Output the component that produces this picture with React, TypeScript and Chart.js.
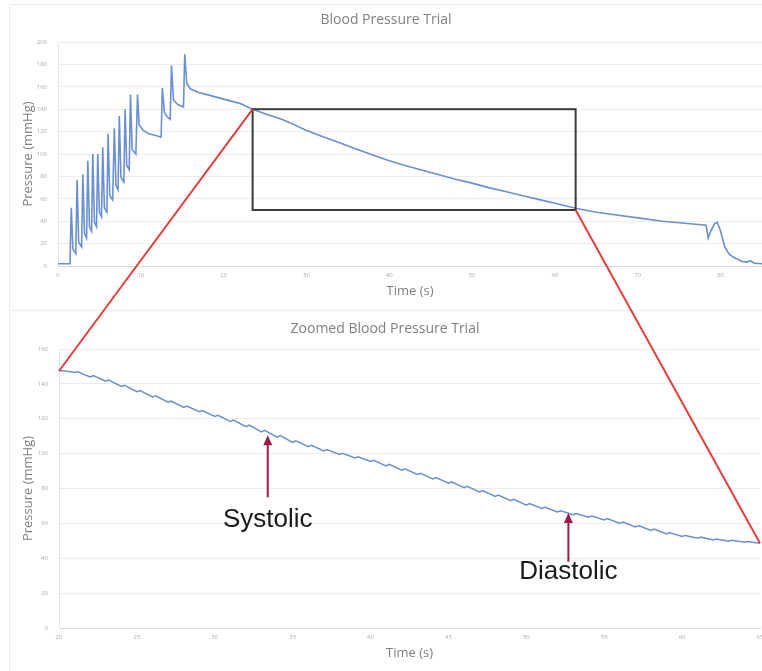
import React, { useEffect, useRef } from "react";
import { Chart, registerables } from "chart.js";

Chart.register(...registerables);

// ---------- data ----------
const topTitle = "Blood Pressure Trial";
const zoomTitle = "Zoomed Blood Pressure Trial";
const xTitle = "Time (s)";
const yTitle = "Pressure (mmHg)";

const topTime = [
  0, 1.45, 1.6, 1.8, 2.15, 2.3, 2.5, 2.85, 3.0, 3.2, 3.45, 3.6, 3.8, 4.05, 4.2, 4.4, 4.65,
  4.8, 5.0, 5.25, 5.4, 5.6, 5.9, 6.05, 6.25, 6.6, 6.8, 7.0, 7.25, 7.4, 7.6, 7.95, 8.1, 8.3,
  8.6, 8.75, 8.95, 9.4, 9.6, 9.8, 10.3, 11, 12, 12.45, 12.6, 12.85, 13.2, 13.55, 13.7, 13.95,
  14.5, 15.15, 15.3, 15.55, 16, 17, 18, 19, 20, 21, 22, 23.5, 25, 27, 28, 30, 32, 34, 36, 38,
  40, 42, 44, 46, 48, 50, 52, 54, 56, 58, 60, 62.5, 65, 67, 70, 73, 76, 78.25, 78.5, 78.8,
  79.3, 79.6, 80, 80.5, 81, 81.5, 82.6, 83.2, 83.6, 84.1, 85,
];
const topPressure = [
  2, 2, 52, 15, 11, 77, 21, 17, 82, 29, 25, 94, 35, 31, 100, 39, 35,
  100, 48, 44, 106, 52, 48, 118, 63, 59, 123, 72, 68, 134, 79, 75, 140, 90,
  86, 153, 104, 100, 153, 126, 121, 118, 116, 115, 159, 137, 133, 131, 179, 148,
  144, 142, 189, 163, 158, 155, 153, 151, 149, 147, 145, 140, 136, 131, 128, 121, 115.5, 110, 104.5, 99,
  94, 89.5, 85.5, 81.5, 77.5, 74, 70, 66.5, 63, 59.5, 56, 51.5, 48, 46, 43, 40, 38, 36.5, 25, 31,
  38, 39, 31, 17, 11, 8, 4, 3.5, 4.7, 2.4, 2,
];

const zoomTime = [
  20, 20.2, 21, 21.2, 22, 22.2, 23, 23.2, 24, 24.2, 25, 25.2, 26, 26.2, 27, 27.2, 28, 28.2,
  29, 29.2, 30, 30.2, 31, 31.2, 32, 32.2, 33, 33.2, 34, 34.2, 35, 35.2, 36, 36.2, 37, 37.2,
  38, 38.2, 39, 39.2, 40, 40.2, 41, 41.2, 42, 42.2, 43, 43.2, 44, 44.2, 45, 45.2, 46, 46.2,
  47, 47.2, 48, 48.2, 49, 49.2, 50, 50.2, 51, 51.2, 52, 52.2, 53, 53.2, 54, 54.2, 55, 55.2,
  56, 56.2, 57, 57.2, 58, 58.2, 59, 59.2, 60, 60.2, 61, 61.2, 62, 62.2, 63, 63.2, 64, 64.2, 65,
];
const zoomPressure = [
  147.4, 147.6, 146.5, 146.9, 144, 144.7, 141.5, 142.2, 138.5, 139.2, 135.5, 136.2, 132.5, 133.2,
  129.5, 130.2, 126.5, 127.3, 124, 124.7, 121.3, 122, 118.5, 119.3, 115.5, 116.3, 112.5, 113.3,
  109.5, 110.3, 106.5, 107.3, 104, 104.8, 101.5, 102.3, 99.5, 100.2, 97.5, 98.2, 95.5, 96.2, 93, 93.8,
  90.5, 91.3, 88, 88.7, 85.5, 86.3, 83, 83.8, 80.5, 81.3, 78, 78.8, 75.5, 76.3, 73, 73.8, 70.5, 71.3,
  68.5, 69.2, 66.5, 67.2, 65, 65.7, 63.5, 64.2, 62, 62.7, 60, 60.7, 58, 58.7, 56, 56.7, 54, 54.7,
  52.5, 53.1, 51.5, 52.1, 50.5, 51, 49.8, 50.3, 49.2, 49.6, 48.6,
];

// zoom window drawn on the top chart (time range, pressure range)
const zoomWindowTime = [23.5, 62.5];
const zoomWindowPressure = [50, 140];

// annotations on the zoomed chart
const markerLabels = ["Systolic", "Diastolic"];
const markerTime = [33.4, 52.7];
const markerTipPressure = [110.5, 66];
const markerTailPressure = [75, 38];
const markerTextPressure = [58, 28];

// ---------- styles ----------
const LINE_COLOR = "#6a8fd2";
const GRID_COLOR = "#ececec";
const TICK_COLOR = "#ababab";
const TITLE_COLOR = "#808080";
const FONT = "'Open Sans', sans-serif";

const toPoints = (xs: number[], ys: number[]) => xs.map((x, i) => ({ x, y: ys[i] }));

const boxPlugin = {
  id: "zoomBox",
  afterDatasetsDraw(chart: any) {
    const { ctx, scales } = chart;
    const x0 = scales.x.getPixelForValue(zoomWindowTime[0]);
    const x1 = scales.x.getPixelForValue(zoomWindowTime[1]);
    const y0 = scales.y.getPixelForValue(zoomWindowPressure[1]);
    const y1 = scales.y.getPixelForValue(zoomWindowPressure[0]);
    ctx.save();
    ctx.strokeStyle = "#3a3a3a";
    ctx.lineWidth = 2;
    ctx.strokeRect(x0, y0, x1 - x0, y1 - y0);
    ctx.restore();
  },
};

const markerPlugin = {
  id: "markers",
  afterDatasetsDraw(chart: any) {
    const { ctx, scales } = chart;
    ctx.save();
    markerLabels.forEach((label, i) => {
      const x = scales.x.getPixelForValue(markerTime[i]);
      const yTip = scales.y.getPixelForValue(markerTipPressure[i]);
      const yTail = scales.y.getPixelForValue(markerTailPressure[i]);
      const yText = scales.y.getPixelForValue(markerTextPressure[i]);
      ctx.strokeStyle = "#9b1c47";
      ctx.fillStyle = "#9b1c47";
      ctx.lineWidth = 2;
      ctx.beginPath();
      ctx.moveTo(x, yTail);
      ctx.lineTo(x, yTip + 7);
      ctx.stroke();
      ctx.beginPath();
      ctx.moveTo(x, yTip);
      ctx.lineTo(x - 4.5, yTip + 10);
      ctx.lineTo(x + 4.5, yTip + 10);
      ctx.closePath();
      ctx.fill();
      ctx.fillStyle = "#1a1a1a";
      ctx.font = "26px 'Liberation Sans', Arial, sans-serif";
      ctx.textAlign = "center";
      ctx.textBaseline = "alphabetic";
      ctx.fillText(label, x, yText);
    });
    ctx.restore();
  },
};

function makeOptions(opts: {
  title: string;
  titlePad: { top: number; bottom: number };
  xMin: number;
  xMax: number;
  xStep: number;
  yMax: number;
  yWidth: number;
  xHeight: number;
  xTitlePadBottom: number;
  rightPad: number;
}) {
  return {
    responsive: false,
    animation: false,
    events: [],
    layout: { padding: { left: 0, right: opts.rightPad, top: 0, bottom: 0 } },
    plugins: {
      legend: { display: false },
      tooltip: { enabled: false },
      title: {
        display: true,
        text: opts.title,
        color: TITLE_COLOR,
        font: { family: FONT, size: 14, weight: "normal", lineHeight: 1.2 },
        padding: opts.titlePad,
      },
    },
    scales: {
      x: {
        type: "linear",
        min: opts.xMin,
        max: opts.xMax,
        grid: { display: false, drawTicks: false },
        border: { display: true, color: "#d9d9d9", width: 1 },
        ticks: {
          stepSize: opts.xStep,
          includeBounds: false,
          maxRotation: 0,
          autoSkip: false,
          color: TICK_COLOR,
          font: { family: FONT, size: 6 },
          padding: 6,
        },
        title: {
          display: true,
          text: xTitle,
          color: TITLE_COLOR,
          font: { family: FONT, size: 13, lineHeight: 1.2 },
          padding: { top: 0, bottom: opts.xTitlePadBottom },
        },
        afterFit: (s: any) => {
          s.height = opts.xHeight;
          s.paddingLeft = 0;
          s.paddingRight = 0;
        },
      },
      y: {
        min: 0,
        max: opts.yMax,
        grid: { color: GRID_COLOR, drawTicks: false },
        border: { display: true, color: "#e6e6e6", width: 1 },
        ticks: {
          stepSize: 20,
          color: TICK_COLOR,
          font: { family: FONT, size: 6 },
          padding: 11,
        },
        title: {
          display: true,
          text: yTitle,
          color: TITLE_COLOR,
          font: { family: FONT, size: 13, lineHeight: 1.2 },
          padding: { top: 10, bottom: 0 },
        },
        afterFit: (s: any) => {
          s.width = opts.yWidth;
          s.paddingTop = 0;
          s.paddingBottom = 0;
        },
      },
    },
  } as any;
}

export default function App() {
  const topRef = useRef<HTMLCanvasElement>(null);
  const zoomRef = useRef<HTMLCanvasElement>(null);
  const overlayRef = useRef<HTMLCanvasElement>(null);

  useEffect(() => {
    document.body.style.margin = "0";
    const top = new Chart(topRef.current!, {
      type: "line",
      data: {
        datasets: [
          {
            data: toPoints(topTime, topPressure),
            borderColor: LINE_COLOR,
            borderWidth: 1.6,
            pointRadius: 0,
            tension: 0,
            fill: false,
          },
        ],
      },
      options: makeOptions({
        title: topTitle,
        titlePad: { top: 8, bottom: 13.2 },
        xMin: 0,
        xMax: 85,
        xStep: 10,
        yMax: 200,
        yWidth: 48,
        xHeight: 44,
        xTitlePadBottom: 11,
        rightPad: 0,
      }),
      plugins: [boxPlugin],
    } as any);

    const zoom = new Chart(zoomRef.current!, {
      type: "line",
      data: {
        datasets: [
          {
            data: toPoints(zoomTime, zoomPressure),
            borderColor: LINE_COLOR,
            borderWidth: 1.5,
            pointRadius: 0,
            tension: 0,
            fill: false,
          },
        ],
      },
      options: makeOptions({
        title: zoomTitle,
        titlePad: { top: 10.6, bottom: 11.6 },
        xMin: 20,
        xMax: 65,
        xStep: 5,
        yMax: 160,
        yWidth: 49,
        xHeight: 43,
        xTitlePadBottom: 10,
        rightPad: 2,
      }),
      plugins: [markerPlugin],
    } as any);

    // connector lines between the two charts
    const ov = overlayRef.current!;
    const ctx = ov.getContext("2d")!;
    ctx.clearRect(0, 0, ov.width, ov.height);
    const tx = (v: number) => 10 + top.scales.x.getPixelForValue(v);
    const ty = (v: number) => 4 + top.scales.y.getPixelForValue(v);
    const zx = (v: number) => 10 + zoom.scales.x.getPixelForValue(v);
    const zy = (v: number) => 310 + zoom.scales.y.getPixelForValue(v);
    const last = zoomTime.length - 1;
    ctx.strokeStyle = "#e2403f";
    ctx.lineWidth = 2;
    ctx.beginPath();
    ctx.moveTo(tx(zoomWindowTime[0]), ty(zoomWindowPressure[1]));
    ctx.lineTo(zx(zoomTime[0]), zy(zoomPressure[0]));
    ctx.moveTo(tx(zoomWindowTime[1]), ty(zoomWindowPressure[0]));
    ctx.lineTo(zx(zoomTime[last]), zy(zoomPressure[last]));
    ctx.stroke();

    return () => {
      top.destroy();
      zoom.destroy();
    };
  }, []);

  const line = (style: React.CSSProperties) => (
    <div style={{ position: "absolute", background: "#ececec", ...style }} />
  );

  return (
    <div style={{ position: "relative", width: 762, height: 671, background: "#fff", overflow: "hidden" }}>
      {line({ left: 9, top: 4, width: 753, height: 1 })}
      {line({ left: 9, top: 4, width: 1, height: 667 })}
      {line({ left: 9, top: 310, width: 753, height: 1 })}
      <canvas
        ref={topRef}
        width={752}
        height={306}
        style={{ position: "absolute", left: 10, top: 4, width: 752, height: 306 }}
      />
      <canvas
        ref={zoomRef}
        width={752}
        height={361}
        style={{ position: "absolute", left: 10, top: 310, width: 752, height: 361 }}
      />
      <canvas
        ref={overlayRef}
        width={762}
        height={671}
        style={{ position: "absolute", left: 0, top: 0, width: 762, height: 671, pointerEvents: "none" }}
      />
    </div>
  );
}
